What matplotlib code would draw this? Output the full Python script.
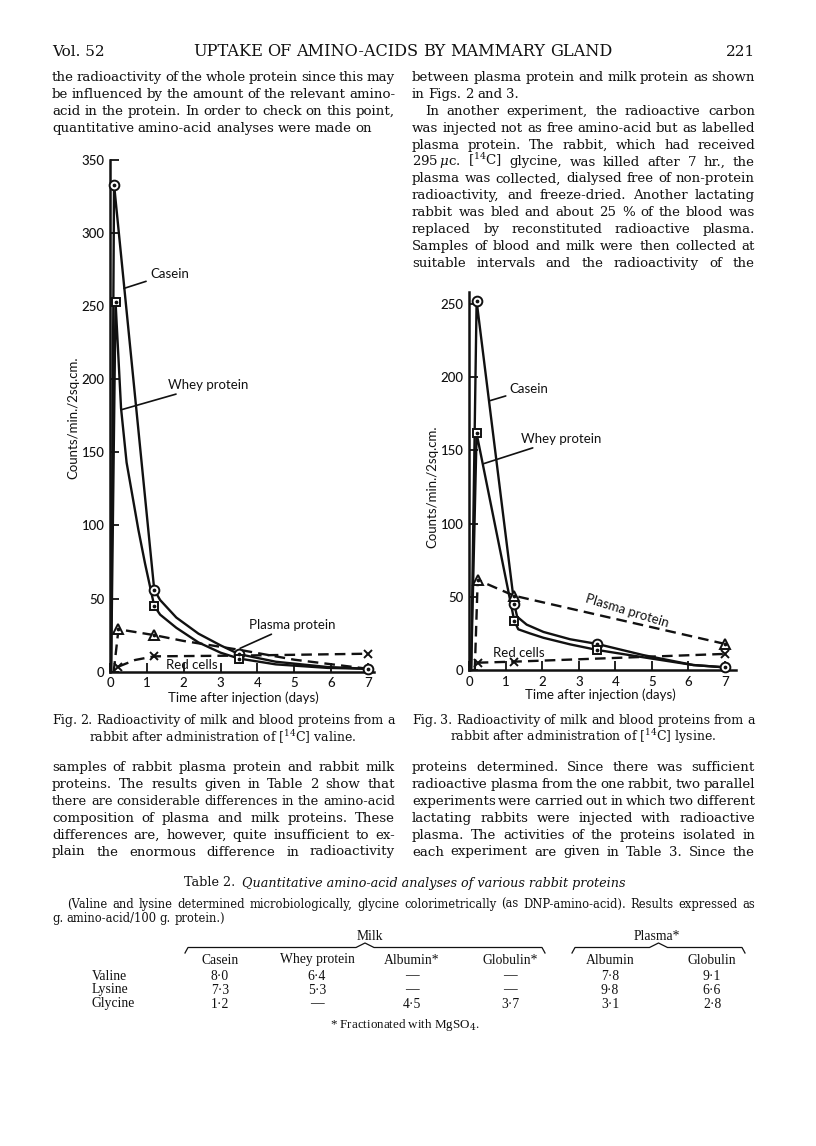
import matplotlib
matplotlib.use('Agg')
import numpy as np
import matplotlib.pyplot as plt
from matplotlib.lines import Line2D

W, H = 816, 1146
SERIF = 'DejaVu Serif'
TABLE = 'Liberation Serif'
SANS = 'Lato'
INK = '#111111'
plt.rcParams['mathtext.fontset'] = 'dejavuserif'

# Fig. 2 -- [14C] valine (counts/min./2 sq.cm. against days)
v_casein_t = [0.03, 0.11, 1.2, 1.36, 1.8, 2.4, 3.0, 3.5, 4.5, 5.9, 7.0]
v_casein_c = [0, 333, 56, 49, 37, 26, 18, 12, 6.8, 3.2, 2]
v_casein_mk = [1, 2, 7, 10]
v_whey_t = [0.03, 0.15, 0.3, 0.45, 0.77, 0.95, 1.2, 1.36, 1.8, 2.4, 3.0, 3.5, 4.5, 5.9, 7.0]
v_whey_c = [0, 253, 180, 143, 97, 74, 45, 39, 30, 20, 13, 9, 5, 2.6, 2]
v_whey_mk = [1, 6, 11]
v_plasma_t = [0.1, 0.23, 1.2, 2.0, 3.5, 5.0, 7.0]
v_plasma_c = [0, 29, 25, 21, 15, 8.2, 2]
v_plasma_mk = [1, 2]
v_red_t = [0.23, 0.68, 1.2, 3.5, 7.0]
v_red_c = [3.5, 8, 10.5, 11, 12.3]
v_red_mk = [0, 2, 4]

# Fig. 3 -- [14C] lysine
l_casein_t = [0.05, 0.2, 1.23, 1.31, 1.57, 2.03, 2.76, 3.5, 4.76, 6.13, 7.0]
l_casein_c = [0, 252, 45, 36.4, 31, 26, 21, 17.8, 10.2, 3.4, 1.8]
l_casein_mk = [1, 2, 7, 10]
l_whey_t = [0.05, 0.2, 1.23, 1.34, 1.66, 2.03, 2.76, 3.5, 4.76, 6.13, 7.0]
l_whey_c = [0, 161.6, 33.8, 27.8, 25, 22, 17.5, 13.7, 8.7, 3.4, 1.8]
l_whey_mk = [1, 2, 7]
l_plasma_t = [0.15, 0.23, 1.23, 7.0]
l_plasma_c = [0, 61.5, 50.7, 17.8]
l_plasma_mk = [1, 2, 3]
l_red_t = [0.23, 1.23, 7.0]
l_red_c = [5, 5.7, 11]
l_red_mk = [0, 1, 2]

# Table 2
tab_cols = ['Casein', 'Whey protein', 'Albumin*', 'Globulin*', 'Albumin', 'Globulin']
tab_rows = ['Valine', 'Lysine', 'Glycine']
tab_vals = [['8·0', '6·4', '—', '—', '7·8', '9·1'],
            ['7·3', '5·3', '—', '—', '9·8', '6·6'],
            ['1·2', '—', '4·5', '3·7', '3·1', '2·8']]

left_top = [
    "the radioactivity of the whole protein since this may",
    "be influenced by the amount of the relevant amino-",
    "acid in the protein.  In order to check on this point,",
    "quantitative amino-acid analyses were made on",
]
right_top = [
    "between plasma protein and milk protein as shown",
    "in Figs. 2 and 3.",
    "In another experiment, the radioactive carbon",
    "was injected not as free amino-acid but as labelled",
    "plasma protein. The rabbit, which had received",
    "295$\\,\\mu$c. [$^{14}$C] glycine, was killed after 7 hr., the",
    "plasma was collected, dialysed free of non-protein",
    "radioactivity, and freeze-dried. Another lactating",
    "rabbit was bled and about 25 % of the blood was",
    "replaced by reconstituted radioactive plasma.",
    "Samples of blood and milk were then collected at",
    "suitable intervals and the radioactivity of the",
]
left_bot = [
    "samples of rabbit plasma protein and rabbit milk",
    "proteins. The results given in Table 2 show that",
    "there are considerable differences in the amino-acid",
    "composition of plasma and milk proteins. These",
    "differences are, however, quite insufficient to ex-",
    "plain the enormous difference in radioactivity",
]
right_bot = [
    "proteins determined. Since there was sufficient",
    "radioactive plasma from the one rabbit, two parallel",
    "experiments were carried out in which two different",
    "lactating rabbits were injected with radioactive",
    "plasma. The activities of the proteins isolated in",
    "each experiment are given in Table 3. Since the",
]

fig = plt.figure(figsize=(W / 100, H / 100), dpi=100)
fig.patch.set_facecolor('white')
r = fig.canvas.get_renderer()


def fx(x):
    return x / W


def fy(y):
    return 1 - y / H


def natural_width(s, size, family=SERIF, style='normal'):
    t = fig.text(0, 0, s, fontsize=size, family=family, style=style)
    w = t.get_window_extent(r).width
    t.remove()
    return w


def put_line(s, x0, x1, y, size, family=SERIF, style='normal', justify=True, fit=False):
    words = s.split()
    ts = [fig.text(0, 0, w, fontsize=size, family=family, style=style, color=INK,
                   ha='left', va='baseline') for w in words]
    widths = [t.get_window_extent(r).width for t in ts]
    space = size * 100 / 72 * 0.28
    n = len(words)
    natural = sum(widths) + space * (n - 1)
    target = x1 - x0
    if (fit and abs(natural - target) > 1.5) or (justify and n > 1 and
                                                  sum(widths) + 0.6 * space * (n - 1) > target):
        for t in ts:
            t.remove()
        return put_line(s, x0, x1, y, size * target / natural, family, style, justify, fit)
    gap = (target - sum(widths)) / (n - 1) if (justify and n > 1) else space
    x = x0
    for t, w in zip(ts, widths):
        t.set_position((fx(x), fy(y + 4)))
        x += w + gap
    return ts


def put_text(s, x, y, size, family=SERIF, ha='left', style='normal', **kw):
    return fig.text(fx(x), fy(y), s, fontsize=size, family=family, style=style,
                    color=INK, ha=ha, va='center', **kw)


def centred(s, xc, y, size, family=SERIF):
    t = put_text(s, 0, y, size, family)
    w = t.get_window_extent(r).width
    t.set_x(fx(xc - w / 2))


# body size: most justified lines should sit close to normal word spacing
base = 10.0
tight = [l for l in left_top[:3] + right_top[2:] + left_bot + right_bot if l != right_top[9]]
fits = [base * 343 / natural_width(l, base) for l in tight]
BODY = float(np.percentile(fits, 30))

# running head
put_text('Vol. 52', 52, 52, 11)
put_line('UPTAKE OF AMINO-ACIDS BY MAMMARY GLAND', 193, 612, 52, 10.5, fit=True)
put_text('221', 755, 52, 11, ha='right')

STEP = 16.9
TOP = 77
for i, s in enumerate(left_top):
    put_line(s, 52, 395, TOP + i * STEP, BODY, justify=(i < 3))
for i, s in enumerate(right_top):
    x0 = 425 if i == 2 else 412
    put_line(s, x0, 755, TOP + i * STEP, BODY, justify=(i != 1))
for i, s in enumerate(left_bot):
    put_line(s, 52, 395, 767 + i * STEP, BODY)
for i, s in enumerate(right_bot):
    put_line(s, 412, 755, 767 + i * STEP, BODY)

# captions
CAP = 9 * 343 / natural_width('Fig. 2. Radioactivity of milk and blood proteins from a', 9)
put_line('Fig. 2. Radioactivity of milk and blood proteins from a', 52, 395, 720, CAP, fit=True)
put_line('Fig. 3. Radioactivity of milk and blood proteins from a', 412, 755, 720, CAP, fit=True)
centred('rabbit after administration of [$^{14}$C] valine.', 223, 737, CAP)
centred('rabbit after administration of [$^{14}$C] lysine.', 583, 737, CAP)

# table 2
t1 = put_text('Table 2.', 0, 883, 9)
t2 = put_text('Quantitative amino-acid analyses of various rabbit proteins', 0, 883, 9,
              style='italic')
w1 = t1.get_window_extent(r).width
w2 = t2.get_window_extent(r).width
k = 440 / (w1 + 7 + w2)
t1.set_fontsize(9 * k)
t2.set_fontsize(9 * k)
w1 = t1.get_window_extent(r).width
w2 = t2.get_window_extent(r).width
t1.set_x(fx(405 - (w1 + 7 + w2) / 2))
t2.set_x(fx(405 - (w1 + 7 + w2) / 2 + w1 + 7))
NOTE = put_line('(Valine and lysine determined microbiologically, glycine colorimetrically '
                '(as DNP-amino-acid). Results expressed as', 67, 755, 904, 8.3)[0].get_fontsize()
put_line('g. amino-acid/100 g. protein.)', 52, 212, 918, NOTE, justify=False)

tab_x = [220, 317, 412, 510, 610, 712]
TS = 9.8
put_text('Milk', 370, 936, TS, family=TABLE, ha='center')
put_text('Plasma*', 657, 936, TS, family=TABLE, ha='center')
for a, b in [(185, 545), (572, 745)]:
    m = (a + b) / 2
    xs = [a, a + 3, m - 9, m, m + 9, b - 3, b]
    ys = [953, 947.5, 947.5, 943, 947.5, 947.5, 953]
    fig.add_artist(Line2D([fx(v) for v in xs], [fy(v) for v in ys], color=INK, lw=0.9))
for x, c in zip(tab_x, tab_cols):
    put_text(c, x, 960, TS, family=TABLE, ha='center')
for j, (rn, vals) in enumerate(zip(tab_rows, tab_vals)):
    y = 976 + j * 14
    put_text(rn, 92, y, TS, family=TABLE)
    for x, v in zip(tab_x, vals):
        put_text(v, x, y, TS, family=TABLE, ha='center')
put_text('* Fractionated with MgSO$_4$.', 405, 1025, 9.4, family=TABLE, ha='center')


# charts
def make_axes(x0, y0, px_x, px_y, xmax, ymax):
    ax = fig.add_axes([fx(x0), fy(y0), xmax * px_x / W, ymax * px_y / H])
    ax.set_xlim(0, xmax)
    ax.set_ylim(0, ymax)
    ax.patch.set_alpha(0)
    for s in ['top', 'right']:
        ax.spines[s].set_visible(False)
    for s in ['left', 'bottom']:
        ax.spines[s].set_linewidth(1.8)
        ax.spines[s].set_color(INK)
    ax.tick_params(direction='in', length=6.5, width=1.3, color=INK, labelcolor=INK,
                   labelsize=9.5, pad=4)
    ax.set_xticks(range(8))
    return ax


def series(ax, t, c, mk, marker, dashed=False, ms=7):
    ls = '--' if dashed else '-'
    ln, = ax.plot(t, c, ls=ls, color=INK, lw=1.7, clip_on=False, zorder=3)
    if dashed:
        ln.set_dashes((4.5, 2.6))
    mt = [t[i] for i in mk]
    mc = [c[i] for i in mk]
    if marker == 'x':
        ax.plot(mt, mc, ls='none', marker='x', ms=6, mew=1.4, color=INK, clip_on=False, zorder=4)
    else:
        ax.plot(mt, mc, ls='none', marker=marker, ms=ms, mfc='white', mec=INK, mew=1.4,
                clip_on=False, zorder=4)
        ax.plot(mt, mc, ls='none', marker='o', ms=1.7, color=INK, clip_on=False, zorder=5)


def label(ax, s, xy, xytext, size=9.5):
    ax.annotate(s, xy=xy, xytext=xytext, fontsize=size, family=SANS, color=INK,
                ha='left', va='center',
                arrowprops=dict(arrowstyle='-', lw=1.2, color=INK, shrinkA=1, shrinkB=0))


def finish(ax):
    for lab in ax.get_xticklabels() + ax.get_yticklabels():
        lab.set_family(SANS)
        lab.set_weight('medium')


# Fig. 2 axes: origin at (110, 671.7) px, 36.86 px/day, 1.463 px/unit
ax2 = make_axes(110, 671.7, 36.86, 1.463, 7.15, 350)
ax2.set_yticks(range(0, 351, 50))
series(ax2, v_casein_t, v_casein_c, v_casein_mk, 'o')
series(ax2, v_whey_t, v_whey_c, v_whey_mk, 's', ms=6)
series(ax2, v_plasma_t, v_plasma_c, v_plasma_mk, '^', dashed=True)
series(ax2, v_red_t, v_red_c, v_red_mk, 'x', dashed=True)
label(ax2, 'Casein', (0.38, 262), (1.09, 272))
label(ax2, 'Whey protein', (0.30, 179), (1.57, 196))
label(ax2, 'Plasma protein', (3.53, 16), (3.77, 32))
ax2.text(1.52, 4.8, 'Red cells', fontsize=9.5, family=SANS, color=INK, va='center')
ax2.set_xlabel('Time after injection (days)', fontsize=9.5, family=SANS, color=INK)
ax2.xaxis.set_label_coords(0.505, -0.038)
ax2.set_ylabel('Counts/min./2sq.cm.', fontsize=9.5, family=SANS, color=INK)
ax2.yaxis.set_label_coords(-0.118, 0.495)
finish(ax2)

# Fig. 3 axes: origin at (469.3, 670) px, 36.53 px/day, 1.464 px/unit
ax3 = make_axes(469.3, 670, 36.53, 1.464, 7.3, 258)
ax3.set_yticks(range(0, 251, 50))
series(ax3, l_casein_t, l_casein_c, l_casein_mk, 'o')
series(ax3, l_whey_t, l_whey_c, l_whey_mk, 's', ms=6)
series(ax3, l_plasma_t, l_plasma_c, l_plasma_mk, '^', dashed=True)
series(ax3, l_red_t, l_red_c, l_red_mk, 'x', dashed=True)
label(ax3, 'Casein', (0.57, 184), (1.11, 192))
label(ax3, 'Whey protein', (0.40, 141), (1.42, 158))
ax3.text(4.31, 40.3, 'Plasma protein', fontsize=9.5, family=SANS, color=INK,
         ha='center', va='center', rotation=-17, rotation_mode='anchor')
ax3.text(0.65, 11.6, 'Red cells', fontsize=9.5, family=SANS, color=INK, va='center')
ax3.set_xlabel('Time after injection (days)', fontsize=9.5, family=SANS, color=INK)
ax3.xaxis.set_label_coords(0.49, -0.05)
ax3.set_ylabel('Counts/min./2sq.cm.', fontsize=9.5, family=SANS, color=INK)
ax3.yaxis.set_label_coords(-0.115, 0.485)
finish(ax3)

fig.savefig('out.png', dpi=100, facecolor='white')
